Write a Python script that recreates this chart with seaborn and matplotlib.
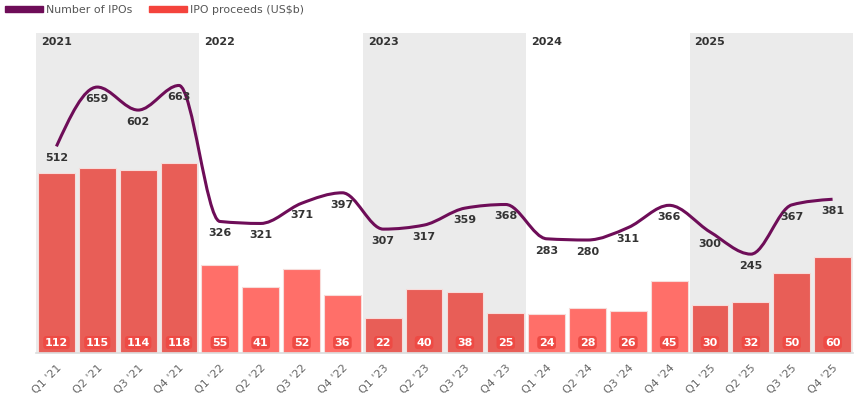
import matplotlib
matplotlib.use("Agg")
import matplotlib.pyplot as plt
import seaborn as sns
import numpy as np
import pandas as pd
from matplotlib.path import Path
from matplotlib.patches import PathPatch, Patch

quarters = ["Q1 '21", "Q2 '21", "Q3 '21", "Q4 '21",
            "Q1 '22", "Q2 '22", "Q3 '22", "Q4 '22",
            "Q1 '23", "Q2 '23", "Q3 '23", "Q4 '23",
            "Q1 '24", "Q2 '24", "Q3 '24", "Q4 '24",
            "Q1 '25", "Q2 '25", "Q3 '25", "Q4 '25"]
ipo_count = [512, 659, 602, 663, 326, 321, 371, 397, 307, 317, 359, 368,
             283, 280, 311, 366, 300, 245, 367, 381]
proceeds = [112, 115, 114, 118, 55, 41, 52, 36, 22, 40, 38, 25,
            24, 28, 26, 45, 30, 32, 50, 60]
years = ["2021", "2022", "2023", "2024", "2025"]

sns.set_theme(style="white")
plt.rcParams['font.family'] = ['DejaVu Sans']

LINE_C = "#6e0d58"
DARK_BAR = "#e85e57"
LIGHT_BAR = "#ff6f69"
BAND = "#ebebeb"

fig = plt.figure(figsize=(8.64, 4.0), dpi=100)
ax = fig.add_axes([36/864, 1-353/400, (853-36)/864, 320/400])

df = pd.DataFrame({"quarter": quarters, "proceeds": proceeds})
bar_colors = [DARK_BAR if (i // 4) % 2 == 0 else LIGHT_BAR for i in range(len(quarters))]

for k in range(len(years)):
    if k % 2 == 0:
        ax.axvspan(4*k - 0.5, 4*k + 3.5, color=BAND, zorder=0, lw=0)
    ax.text(4*k - 0.5 + 0.12, 0.972, years[k], transform=ax.get_xaxis_transform(),
            fontsize=8, fontweight="bold", color="#333333", va="center", ha="left")

sns.barplot(data=df, x="quarter", y="proceeds", hue="quarter", palette=bar_colors,
            legend=False, width=0.9, ax=ax, edgecolor="#f7dcda", linewidth=0.8,
            saturation=1, zorder=2)
ax.set_xlim(-0.5, len(quarters) - 0.5)
ax.set_ylim(0, 199)
ax.set_xlabel("")
ax.set_ylabel("")
ax.set_yticks([])

for i, v in enumerate(proceeds):
    ax.text(i, 6.5, str(v), ha="center", va="center", fontsize=8, fontweight="bold",
            color="white", zorder=5,
            bbox=dict(boxstyle="round,pad=0.14,rounding_size=0.3", fc="#ee4a44", ec="none"))

ax.set_xticks(range(len(quarters)))
ax.set_xticklabels(quarters, rotation=45, ha="right", rotation_mode="anchor",
                   fontsize=8, color="#666666")
ax.tick_params(axis="x", length=3, color="#cccccc", pad=4)
for s in ["top", "right", "left"]:
    ax.spines[s].set_visible(False)
ax.spines["bottom"].set_color("#dddddd")

ax2 = ax.twinx()
ax2.set_ylim(0, 793)
ax2.set_yticks([])
for s in ax2.spines.values():
    s.set_visible(False)

# monotone cubic curve (like d3 curveMonotoneX) drawn as Bezier path
xs = np.arange(len(ipo_count), dtype=float)
ys = np.array(ipo_count, dtype=float)
n = len(ys)
sl = np.diff(ys)
m = np.zeros(n)
for i in range(1, n - 1):
    s0, s1 = sl[i - 1], sl[i]
    p = (s0 + s1) / 2.0
    m[i] = (np.sign(s0) + np.sign(s1)) * min(abs(s0), abs(s1), 0.5 * abs(p))
m[0] = (3 * sl[0] - m[1]) / 2.0
m[-1] = (3 * sl[-1] - m[-2]) / 2.0
verts = [(xs[0], ys[0])]
codes = [Path.MOVETO]
for i in range(n - 1):
    verts += [(xs[i] + 1/3, ys[i] + m[i] / 3),
              (xs[i + 1] - 1/3, ys[i + 1] - m[i + 1] / 3),
              (xs[i + 1], ys[i + 1])]
    codes += [Path.CURVE4] * 3
patch = PathPatch(Path(verts, codes), fc="none", ec=LINE_C, lw=2.2, zorder=4)
ax2.add_patch(patch)

for i, v in enumerate(ipo_count):
    ax2.annotate(str(v), (i, v), xytext=(0, -8.5), textcoords="offset points",
                 ha="center", va="center", fontsize=8, fontweight="bold",
                 color="#333333", zorder=6)

handles = [Patch(color=LINE_C), Patch(color="#f4433c")]
fig.legend(handles, ["Number of IPOs", "IPO proceeds (US$b)"], loc="upper left",
           bbox_to_anchor=(-0.006, 1.012), ncol=2, frameon=False, fontsize=7.9,
           labelcolor="#555555", handlelength=3.5, handletextpad=0.25,
           columnspacing=1.5, handleheight=0.55)

fig.savefig("out.png", dpi=100)
